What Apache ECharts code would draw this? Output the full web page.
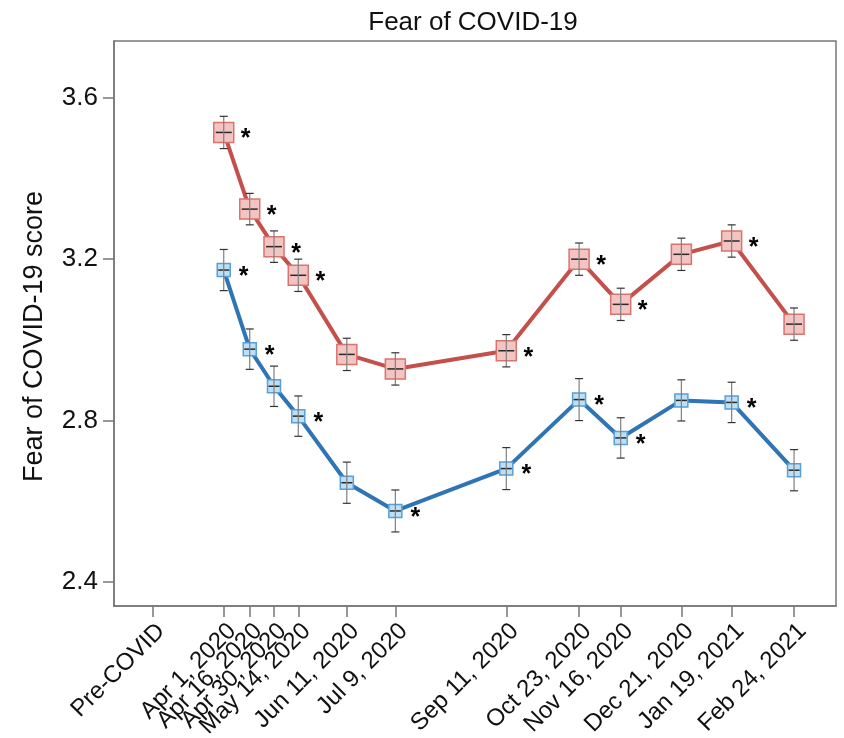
<!DOCTYPE html>
<html>
<head>
<meta charset="utf-8">
<script src="https://cdn.jsdelivr.net/npm/echarts@6/dist/echarts.min.js"></script>
<style>
html,body{margin:0;padding:0;background:#fff;}
#chart{width:844px;height:738px;}
</style>
</head>
<body>
<div id="chart"></div>
<script>
// ---- data ----
const surveyDates = ['2020-04-01','2020-04-16','2020-04-30','2020-05-14','2020-06-11','2020-07-09','2020-09-11','2020-10-23','2020-11-16','2020-12-21','2021-01-19','2021-02-24'];
const tickLabels = ['Pre-COVID','Apr 1, 2020','Apr 16, 2020','Apr 30, 2020','May 14, 2020','Jun 11, 2020','Jul 9, 2020','Sep 11, 2020','Oct 23, 2020','Nov 16, 2020','Dec 21, 2020','Jan 19, 2021','Feb 24, 2021'];
const preCovidDay = -41; // position of the Pre-COVID tick, in days relative to Apr 1, 2020
const redMean  = [3.514, 3.324, 3.231, 3.160, 2.964, 2.928, 2.973, 3.200, 3.088, 3.212, 3.245, 3.039];
const redErr   = [0.040, 0.039, 0.039, 0.040, 0.040, 0.040, 0.040, 0.040, 0.040, 0.040, 0.040, 0.040];
const redStar  = [1, 1, 1, 1, 0, 0, 1, 1, 1, 0, 1, 0];
const blueMean = [3.173, 2.977, 2.885, 2.811, 2.646, 2.576, 2.681, 2.852, 2.757, 2.850, 2.845, 2.677];
const blueErr  = [0.051, 0.050, 0.050, 0.050, 0.051, 0.052, 0.052, 0.052, 0.050, 0.051, 0.050, 0.051];
const blueStar = [1, 1, 0, 1, 0, 1, 1, 1, 1, 0, 1, 0];
const yTicks = [2.4, 2.8, 3.2, 3.6];

// ---- helpers ----
const DAY = 86400000;
const origin = Date.UTC(2020, 3, 1);
function dayOf(s) { const p = s.split('-').map(Number); return Math.round((Date.UTC(p[0], p[1]-1, p[2]) - origin) / DAY); }
const surveyDays = surveyDates.map(dayOf);
const tickDays = [preCovidDay].concat(surveyDays);
const labelByDay = {};
tickDays.forEach((d, i) => { labelByDay[d] = tickLabels[i]; });

function rows(mean, err, star) {
  return mean.map((m, i) => [surveyDays[i], m, m - err[i], m + err[i], star[i]]);
}

function makeRender(st) {
  return function (params, api) {
    const x = api.value(0), y = api.value(1), lo = api.value(2), hi = api.value(3), star = api.value(4);
    const p = api.coord([x, y]);
    const pl = api.coord([x, lo]);
    const ph = api.coord([x, hi]);
    const s = st.size;
    const children = [
      { type: 'rect', shape: { x: p[0] - s/2, y: p[1] - s/2, width: s, height: s },
        style: { fill: st.fill, stroke: st.stroke, lineWidth: 1.5 } },
      { type: 'line', shape: { x1: p[0] - st.mean, y1: p[1], x2: p[0] + st.mean, y2: p[1] },
        style: { stroke: '#2a2a2a', lineWidth: 1.5 } },
      { type: 'line', shape: { x1: pl[0], y1: pl[1], x2: ph[0], y2: ph[1] },
        style: { stroke: '#808080', lineWidth: 1.2 } },
      { type: 'line', shape: { x1: pl[0] - 4, y1: pl[1], x2: pl[0] + 4, y2: pl[1] },
        style: { stroke: '#333', lineWidth: 1.2 } },
      { type: 'line', shape: { x1: ph[0] - 4, y1: ph[1], x2: ph[0] + 4, y2: ph[1] },
        style: { stroke: '#333', lineWidth: 1.2 } }
    ];
    if (star) {
      children.push({ type: 'text', x: p[0] + st.starDx, y: p[1] + 7,
        style: { text: '*', fill: '#000', font: 'bold 25px "Liberation Sans", Arial, sans-serif',
                 align: 'center', verticalAlign: 'middle' } });
    }
    return { type: 'group', children: children };
  };
}

const chart = echarts.init(document.getElementById('chart'), null, { renderer: 'canvas' });
const FONT = '"Liberation Sans", Arial, Helvetica, sans-serif';

chart.setOption({
  animation: false,
  backgroundColor: '#fff',
  title: {
    text: 'Fear of COVID-19', left: 468, top: 5, textAlign: 'center',
    textStyle: { fontFamily: FONT, fontSize: 26, fontWeight: 'normal', color: '#111' }
  },
  grid: { left: 114, right: 8, top: 41, bottom: 132, show: true, borderColor: '#777', borderWidth: 1.5,
          backgroundColor: 'transparent', containLabel: false, outerBoundsMode: 'none' },
  xAxis: {
    type: 'value', min: -63.3, max: 353.2,
    axisLine: { show: true, onZero: false, lineStyle: { color: '#777', width: 1.5 } },
    axisTick: { show: true, length: 11, customValues: tickDays, lineStyle: { color: '#777', width: 1.5 } },
    axisLabel: { customValues: tickDays, rotate: 45, margin: 13, fontFamily: FONT, fontSize: 24, color: '#111',
                 align: 'right', verticalAlign: 'top', lineHeight: 24,
                 formatter: v => labelByDay[Math.round(v)] || '' },
    splitLine: { show: false }
  },
  yAxis: {
    type: 'value', min: 2.3405, max: 3.7406,
    name: 'Fear of COVID-19 score', nameLocation: 'middle', nameGap: 66,
    nameTextStyle: { fontFamily: FONT, fontSize: 27, color: '#111', padding: [0, 26, 0, 0] },
    axisLine: { show: true, onZero: false, lineStyle: { color: '#777', width: 1.5 } },
    axisTick: { show: true, length: 11, customValues: yTicks, lineStyle: { color: '#777', width: 1.5 } },
    axisLabel: { customValues: yTicks, margin: 16, fontFamily: FONT, fontSize: 26, color: '#111',
                 formatter: v => v.toFixed(1) },
    splitLine: { show: false }
  },
  series: [
    { type: 'line', data: rows(redMean, redErr, redStar).map(r => [r[0], r[1]]), showSymbol: false,
      lineStyle: { color: '#c44f4b', width: 4 }, z: 2, silent: true },
    { type: 'line', data: rows(blueMean, blueErr, blueStar).map(r => [r[0], r[1]]), showSymbol: false,
      lineStyle: { color: '#2f74b4', width: 4 }, z: 2, silent: true },
    { type: 'custom', data: rows(redMean, redErr, redStar), z: 3, clip: false,
      encode: { x: 0, y: [1, 2, 3] },
      renderItem: makeRender({ size: 20, mean: 8, fill: '#f3c4c1', stroke: '#d8746e', starDx: 22 }) },
    { type: 'custom', data: rows(blueMean, blueErr, blueStar), z: 3, clip: false,
      encode: { x: 0, y: [1, 2, 3] },
      renderItem: makeRender({ size: 13, mean: 5.5, fill: '#bde0f6', stroke: '#5a9fd6', starDx: 20 }) }
  ]
});
</script>
</body>
</html>
